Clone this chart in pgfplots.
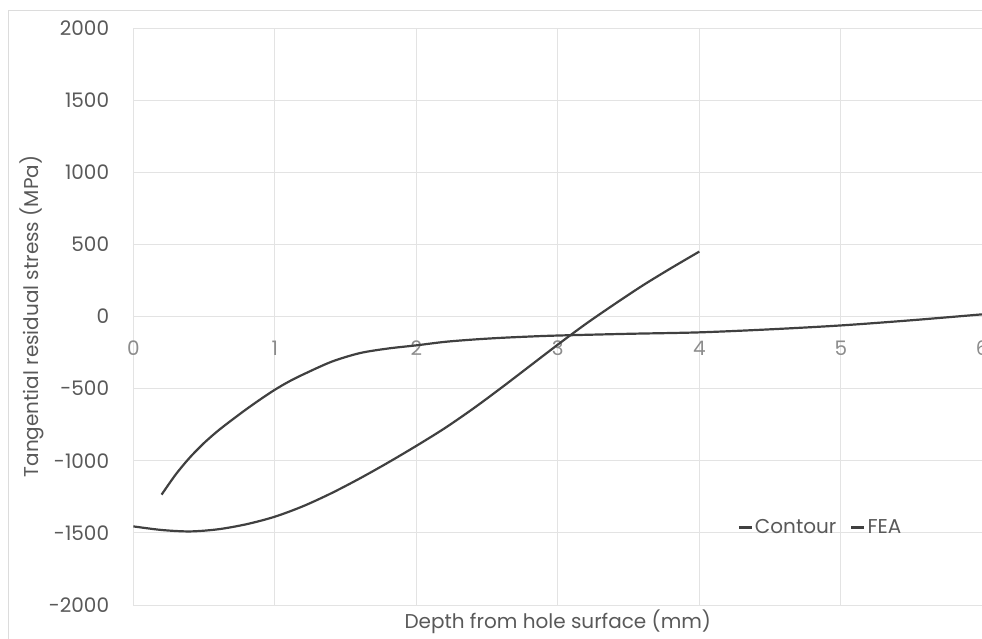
\documentclass[border=0pt]{standalone}
\usepackage{fontspec}
\setmainfont{Poppins}
\usepackage{pgfplots}
\pgfplotsset{compat=1.18}
\definecolor{curve}{HTML}{404040}
\definecolor{gridgray}{HTML}{E3E3E3}
\definecolor{framegray}{HTML}{DCDCDC}
\definecolor{ylab}{HTML}{595959}
\definecolor{xlab}{HTML}{8C8C8C}
\begin{document}
\begin{tikzpicture}
\useasboundingbox (0,0) rectangle (982pt,639pt);
\draw[framegray, line width=0.8pt] (8pt,629pt) rectangle (1000pt,-20pt);
\begin{axis}[
    at={(133.3pt,34pt)}, anchor=south west,
    scale only axis, width=849pt, height=577pt,
    xmin=0, xmax=6, ymin=-2000, ymax=2000,
    xtick={0,1,...,6}, ytick={-2000,-1500,...,2000},
    grid=major, grid style={gridgray, line width=0.8pt},
    axis line style={draw=none}, tick style={draw=none},
    /pgf/number format/assume math mode=true,
    /pgf/number format/1000 sep={},
    yticklabel style={font=\fontsize{20}{24}\selectfont, text=ylab, anchor=east, inner sep=0pt, xshift=-24pt},
    xticklabel style={font=\fontsize{20}{24}\selectfont, text=xlab, anchor=north, inner sep=0pt, yshift=264pt},
    xlabel={Depth from hole surface (mm)},
    ylabel={Tangential residual stress (MPa)},
    xlabel style={font=\fontsize{20}{24}\selectfont, text=ylab, at={(axis description cs:0.5,0)}, anchor=center, yshift=-17pt},
    ylabel style={font=\fontsize{20}{24}\selectfont, text=ylab, at={(axis description cs:-0.1193,0.5)}, anchor=center},
    legend columns=2,
    legend style={at={(axis cs:4.857,-1463)}, anchor=center, draw=none, fill=none,
        font=\fontsize{20}{24}\selectfont, text=ylab, inner sep=0pt,
        /tikz/every even column/.append style={column sep=12pt}},
    legend image code/.code={\draw[#1] (0pt,0pt) -- (13pt,0pt);},
]
% Contour
\addplot[curve, line width=2.2pt, smooth, tension=0.5] coordinates {
    (0,-1455) (0.2,-1480) (0.4,-1490) (0.6,-1475) (0.8,-1440) (1,-1388)
    (1.2,-1315) (1.4,-1225) (1.6,-1123) (1.8,-1013) (2,-897) (2.2,-775)
    (2.4,-640) (2.6,-495) (2.8,-345) (3,-195) (3.2,-50) (3.4,85)
    (3.6,215) (3.8,335) (4,450)
};
\addlegendentry{Contour}
% FEA
\addplot[curve, line width=2.2pt, smooth, tension=0.5] coordinates {
    (0.2,-1235) (0.3,-1095) (0.4,-977) (0.5,-877) (0.6,-791) (0.7,-715)
    (0.8,-642) (0.9,-573) (1,-508) (1.1,-451) (1.2,-402) (1.4,-314) (1.6,-254)
    (1.8,-222) (2,-200) (2.2,-176) (2.4,-160) (2.6,-148) (2.8,-139)
    (3,-132) (3.5,-120) (4,-110) (4.5,-89) (5,-62) (5.5,-26) (6,15)
};
\addlegendentry{FEA}
\end{axis}
\end{tikzpicture}
\end{document}
